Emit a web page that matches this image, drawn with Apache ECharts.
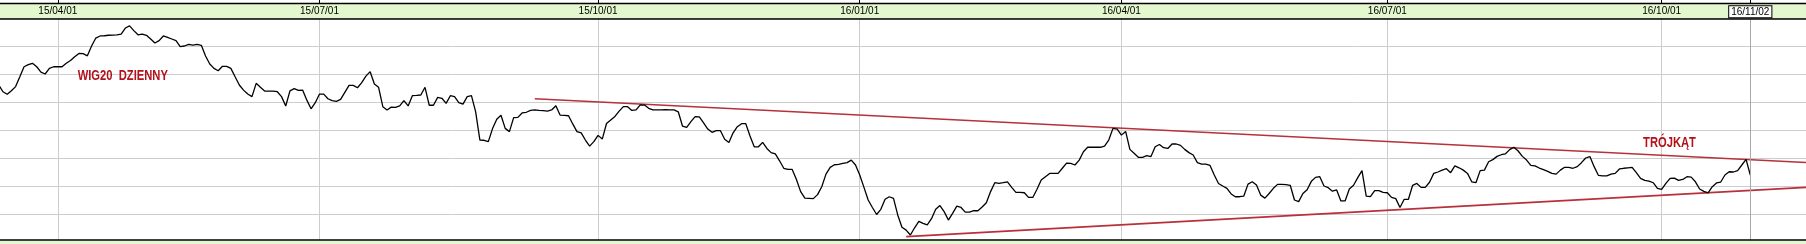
<!DOCTYPE html>
<html>
<head>
<meta charset="utf-8">
<style>
html,body{margin:0;padding:0;background:#fff;}
#chart{width:1806px;height:244px;}
</style>
<script src="https://cdn.jsdelivr.net/npm/echarts@6/dist/echarts.min.js"></script>
</head>
<body>
<div id="chart"></div>
<script>
// Trading-day index of first value (0 = 2015-04-01)
const firstDay = -14;
// Tick positions (trading-day index) and their labels
const tickIndex = [0, 62, 128, 190, 252, 315, 380, 401];
const tickLabels = ['15/04/01', '15/07/01', '15/10/01', '16/01/01', '16/04/01', '16/07/01', '16/10/01', '16/11/02'];
const currentDay = 401;
// WIG20 daily closes (one per trading day)
const wig20 = [
  2356, 2327, 2316, 2331, 2349, 2391, 2434, 2443, 2449, 2434,
  2411, 2403, 2427, 2434, 2434, 2434, 2449, 2461, 2477, 2491,
  2490, 2481, 2523, 2557, 2566, 2567, 2569, 2570, 2571, 2574,
  2600, 2609, 2589, 2571, 2574, 2569, 2553, 2536, 2546, 2566,
  2560, 2553, 2546, 2520, 2523, 2530, 2527, 2530, 2526, 2480,
  2446, 2427, 2417, 2436, 2436, 2427, 2391, 2356, 2334, 2317,
  2306, 2363, 2346, 2330, 2330, 2330, 2327, 2306, 2266, 2331,
  2340, 2333, 2334, 2291, 2254, 2280, 2317, 2317, 2297, 2289,
  2286, 2294, 2324, 2354, 2354, 2344, 2366, 2394, 2413, 2360,
  2346, 2263, 2249, 2261, 2260, 2266, 2289, 2266, 2310, 2311,
  2313, 2346, 2269, 2269, 2303, 2299, 2277, 2310, 2306, 2280,
  2274, 2306, 2310, 2241, 2120, 2119, 2113, 2169, 2209, 2226,
  2170, 2156, 2216, 2217, 2236, 2239, 2247, 2249, 2247, 2246,
  2244, 2249, 2267, 2227, 2226, 2224, 2189, 2156, 2151, 2120,
  2094, 2113, 2140, 2124, 2191, 2206, 2221, 2244, 2263, 2263,
  2247, 2249, 2271, 2270, 2256, 2249, 2249, 2249, 2250, 2249,
  2249, 2241, 2180, 2174, 2199, 2220, 2219, 2194, 2167, 2153,
  2160, 2160, 2123, 2109, 2151, 2177, 2190, 2190, 2137, 2091,
  2091, 2110, 2084, 2066, 2061, 2031, 1999, 1994, 1994, 1951,
  1899, 1871, 1870, 1869, 1886, 1920, 1974, 2003, 2014, 2016,
  2020, 2023, 2034, 2013, 1970, 1917, 1863, 1831, 1801, 1823,
  1866, 1877, 1870, 1799, 1746, 1734, 1713, 1744, 1771, 1763,
  1756, 1783, 1823, 1839, 1813, 1777, 1806, 1837, 1831, 1811,
  1811, 1817, 1817, 1833, 1851, 1899, 1937, 1934, 1937, 1941,
  1917, 1896, 1896, 1894, 1874, 1874, 1909, 1949, 1963, 1977,
  1977, 1977, 1999, 2021, 2020, 2013, 2034, 2070, 2089, 2089,
  2089, 2089, 2094, 2120, 2170, 2167, 2141, 2157, 2080, 2063,
  2046, 2046, 2053, 2049, 2091, 2101, 2087, 2084, 2103, 2103,
  2097, 2080, 2066, 2056, 2023, 2017, 2017, 2011, 1970, 1934,
  1923, 1913, 1889, 1877, 1877, 1880, 1931, 1941, 1927, 1884,
  1871, 1891, 1913, 1930, 1930, 1929, 1926, 1863, 1856, 1891,
  1907, 1943, 1960, 1963, 1923, 1916, 1901, 1906, 1859, 1859,
  1910, 1926, 1959, 1989, 1880, 1877, 1903, 1903, 1896, 1894,
  1874, 1869, 1831, 1866, 1866, 1926, 1934, 1917, 1917, 1939,
  1977, 1983, 1991, 1997, 1980, 2009, 2001, 1991, 1977, 1941,
  1937, 1989, 1991, 2027, 2036, 2050, 2057, 2061, 2079, 2089,
  2073, 2050, 2034, 2011, 2009, 2000, 1993, 1986, 1977, 1974,
  1991, 2003, 2003, 1999, 2006, 2023, 2043, 2049, 2006, 1969,
  1966, 1966, 1974, 1977, 1996, 1999, 2001, 2003, 1980, 1956,
  1947, 1944, 1937, 1913, 1909, 1934, 1956, 1957, 1947, 1951,
  1963, 1961, 1941, 1910, 1900, 1894, 1920, 1936, 1940, 1970,
  1984, 1983, 1989, 2013, 2037, 1970
];
// Triangle trend lines: [day index, value]
const upperTrend = [[113, 2297], [414.2, 2024]];
const lowerTrend = [[201, 1706], [414.2, 1917]];
// Text annotations
const titleText = 'WIG20  DZIENNY';
const patternText = 'TRÓJKĄT';

const X_MIN = -13.7, X_MAX = 414.2;
const LABEL_FONT = "'Liberation Sans',Arial,sans-serif";
const GREEN = '#e4f8d0';
const RED = '#b3121c';
const TREND = '#b8303a';

const chart = echarts.init(document.getElementById('chart'), null, {renderer: 'canvas'});
const labelMap = {};
tickIndex.forEach((t, i) => labelMap[t] = tickLabels[i]);

chart.setOption({
  animation: false,
  backgroundColor: '#ffffff',
  grid: {left: 0, right: 0, top: 18.7, bottom: 1.3, containLabel: false},
  xAxis: [
    {
      type: 'value', position: 'top', min: X_MIN, max: X_MAX,
      axisLine: {show: false},
      axisTick: {show: false, customValues: tickIndex},
      axisLabel: {
        customValues: tickIndex,
        margin: 7,
        verticalAlign: 'middle',
        fontSize: 10,
        fontFamily: LABEL_FONT,
        color: '#000',
        formatter: (v) => {
          const s = labelMap[Math.round(v)] || '';
          return Math.round(v) === currentDay ? '{box|' + s + '}' : s;
        },
        rich: {
          box: {
            fontSize: 10, fontFamily: LABEL_FONT, color: '#000',
            backgroundColor: '#fff', borderColor: '#000', borderWidth: 1,
            padding: [1, 2, 0, 2], lineHeight: 10
          }
        }
      },
      splitLine: {show: true, lineStyle: {color: '#cdcdcd', width: 1}}
    },
    {
      type: 'value', position: 'top', offset: 15.4, min: X_MIN, max: X_MAX,
      axisLine: {show: false},
      axisTick: {show: true, length: 3.3, customValues: tickIndex, lineStyle: {color: '#000', width: 1}},
      axisLabel: {show: false},
      splitLine: {show: false}
    }
  ],
  yAxis: {
    type: 'value', min: 1680, max: 2640, interval: 120,
    axisLine: {show: false}, axisTick: {show: false}, axisLabel: {show: false},
    splitLine: {show: true, lineStyle: {color: '#cdcdcd', width: 1}}
  },
  series: [
    {
      type: 'line', name: 'upper', xAxisIndex: 0,
      data: upperTrend, showSymbol: false, symbol: 'none',
      lineStyle: {color: TREND, width: 1.6}, z: 3
    },
    {
      type: 'line', name: 'lower', xAxisIndex: 0,
      data: lowerTrend, showSymbol: false, symbol: 'none',
      lineStyle: {color: TREND, width: 1.6}, z: 3
    },
    {
      type: 'line', name: 'WIG20', xAxisIndex: 0,
      data: wig20.map((v, i) => [firstDay + i, v]),
      showSymbol: false, symbol: 'none',
      lineStyle: {color: '#000', width: 1.3}, z: 4,
      markLine: {
        silent: true, symbol: ['none', 'none'],
        label: {show: false},
        lineStyle: {color: '#a8a8a8', width: 1, type: 'solid'},
        data: [{xAxis: currentDay}]
      }
    }
  ],
  graphic: {
    elements: [
      {type: 'rect', z: -10, shape: {x: 0, y: 3, width: 1806, height: 16}, style: {fill: GREEN}},
      {type: 'line', z: 50, shape: {x1: 0, y1: 3.5, x2: 1806, y2: 3.5}, style: {stroke: '#000', lineWidth: 1.3}},
      {type: 'line', z: 50, shape: {x1: 0, y1: 19, x2: 1806, y2: 19}, style: {stroke: '#000', lineWidth: 1.3}},
      {type: 'rect', z: 50, shape: {x: 0, y: 240.6, width: 1806, height: 4}, style: {fill: GREEN}},
      {type: 'line', z: 51, shape: {x1: 0, y1: 240, x2: 1806, y2: 240}, style: {stroke: '#000', lineWidth: 1.3}},
      {type: 'text', z: 60, x: 122.8, y: 76, scaleX: 0.8, style: {text: titleText, fill: RED, font: "bold 14px 'Liberation Sans',Arial,sans-serif", align: 'center', verticalAlign: 'middle'}},
      {type: 'text', z: 60, x: 1669.5, y: 142.7, scaleX: 0.8, style: {text: patternText, fill: RED, font: "bold 14px 'Liberation Sans',Arial,sans-serif", align: 'center', verticalAlign: 'middle'}}
    ]
  }
});
</script>
</body>
</html>
